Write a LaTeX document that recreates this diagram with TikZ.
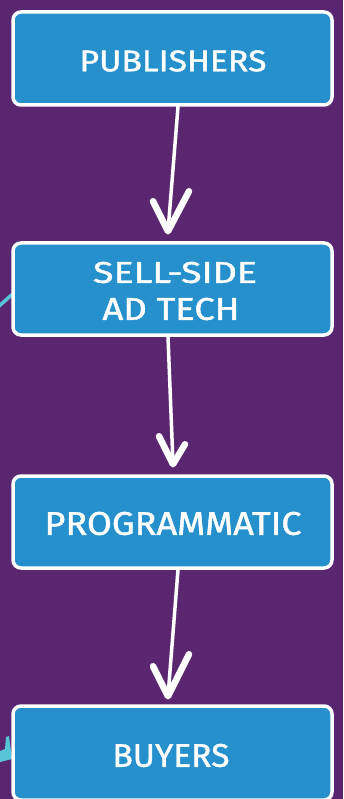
\documentclass[tikz,border=0pt]{standalone}
\usepackage{fontspec}
\setmainfont{Fira Sans}
\newfontfamily\handfont{Fira Sans}[FakeBold=1.2]
\usetikzlibrary{calc}
\definecolor{bgpurple}{HTML}{5A2670}
\definecolor{boxblue}{HTML}{2590CC}
\definecolor{cyanline}{HTML}{56C5D6}
\tikzset{
  stagebox/.style={draw=white, line width=3.5pt, fill=boxblue, rounded corners=8pt,
    minimum width=319pt, inner sep=0pt, text=white},
  flowshaft/.style={draw=white, line width=3.5pt, line cap=round},
  flowhead/.style={draw=white, line width=6.5pt, line cap=round, line join=round},
  stagetext/.style={text=white, inner sep=0pt, font=\handfont},
}
\newcommand{\lbl}[3]{\resizebox{#1}{#2}{#3}}
\begin{document}
\begin{tikzpicture}[x=1pt,y=-1pt]
\useasboundingbox (0,0) rectangle (343,799);
\fill[bgpurple] (0,0) rectangle (343,799);
% cyan pieces at the left edge
\draw[cyanline, line width=3.5pt] (-2,307) -- (16,291);
\fill[cyanline] (0,751) -- (5,749) -- (6,737) -- (9,736) -- (12,759) -- (0,762) -- cycle;
% boxes
\node[stagebox, minimum height=93pt] (pub) at (172.5,58.5) {};
\node[stagebox, minimum height=92pt] (sell) at (172.5,289) {};
\node[stagebox, minimum height=92pt] (prog) at (172.5,522) {};
\node[stagebox, minimum height=94pt] (buy) at (172.5,753) {};
% labels
\node[stagetext] (tpub) at (173,61) {\lbl{187pt}{21pt}{PUBLISHERS}};
\node[stagetext] (tsell1) at (175,272.5) {\lbl{164pt}{21pt}{SELL-SIDE}};
\node[stagetext] (tsell2) at (171,309) {\lbl{137pt}{22pt}{AD TECH}};
\node[stagetext] (tprog) at (173,523.5) {\lbl{257pt}{23pt}{PROGRAMMATIC}};
\node[stagetext] (tbuy) at (171,755.5) {\lbl{117pt}{23pt}{BUYERS}};
% arrows: shafts
\coordinate (tip1) at ($(sell.north)+(-4.5,-10)$);
\coordinate (tip2) at ($(prog.north)+(0.5,-10)$);
\coordinate (tip3) at ($(buy.north)+(-4.5,-8)$);
\draw[flowshaft] ($(pub.south)+(5.5,0)$) -- (tip1);
\draw[flowshaft] ($(sell.south)+(-4.5,0)$) -- (tip2);
\draw[flowshaft] ($(prog.south)+(5.5,0)$) -- (tip3);
% arrows: V heads
\draw[flowhead] ($(tip1)+(-15,-30)$) -- (tip1) -- ($(tip1)+(21,-40)$);
\draw[flowhead] ($(tip2)+(-14,-28)$) -- (tip2) -- ($(tip2)+(12,-20)$);
\draw[flowhead] ($(tip3)+(-15,-30)$) -- (tip3) -- ($(tip3)+(21,-42)$);
\end{tikzpicture}
\end{document}
